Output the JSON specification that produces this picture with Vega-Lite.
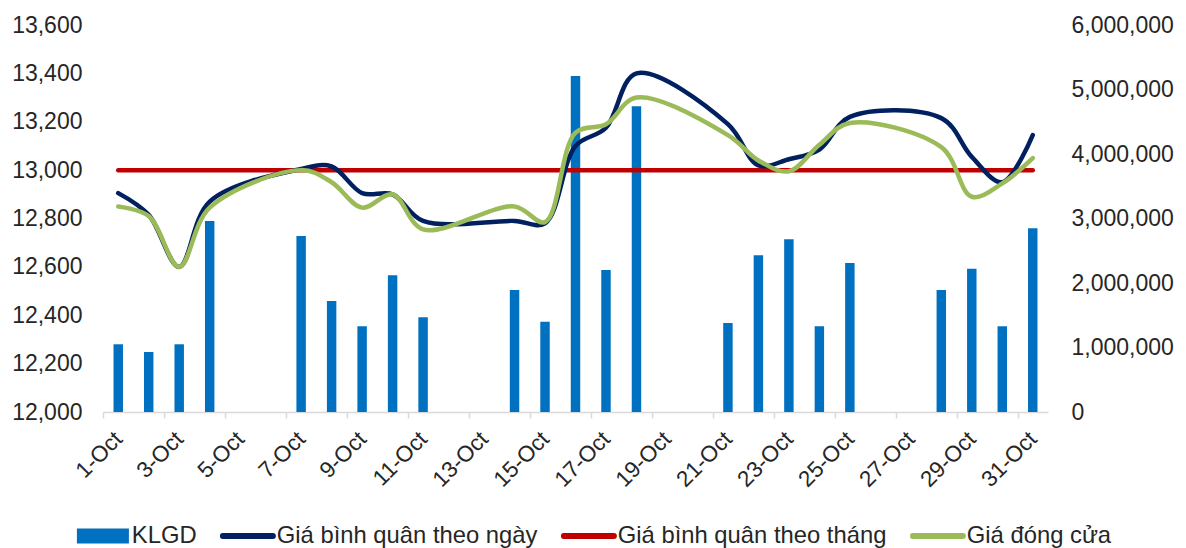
{
  "$schema": "https://vega.github.io/schema/vega-lite/v6.json",
  "width": 945,
  "height": 387,
  "autosize": {"type": "none"},
  "padding": {"left": 103, "top": 25, "right": 138, "bottom": 136},
  "background": "white",
  "config": {
    "view": {"stroke": null},
    "font": "Liberation Sans",
    "axis": {"labelFont": "Liberation Sans", "labelColor": "#262626", "grid": false, "title": null}
  },
  "datasets": {
    "vol": [
      {"d": "1-Oct", "s": "KLGD", "v": 1050000},
      {"d": "2-Oct", "s": "KLGD", "v": 930000},
      {"d": "3-Oct", "s": "KLGD", "v": 1050000},
      {"d": "4-Oct", "s": "KLGD", "v": 2960000},
      {"d": "7-Oct", "s": "KLGD", "v": 2730000},
      {"d": "8-Oct", "s": "KLGD", "v": 1720000},
      {"d": "9-Oct", "s": "KLGD", "v": 1330000},
      {"d": "10-Oct", "s": "KLGD", "v": 2120000},
      {"d": "11-Oct", "s": "KLGD", "v": 1470000},
      {"d": "14-Oct", "s": "KLGD", "v": 1890000},
      {"d": "15-Oct", "s": "KLGD", "v": 1400000},
      {"d": "16-Oct", "s": "KLGD", "v": 5210000},
      {"d": "17-Oct", "s": "KLGD", "v": 2200000},
      {"d": "18-Oct", "s": "KLGD", "v": 4740000},
      {"d": "21-Oct", "s": "KLGD", "v": 1380000},
      {"d": "22-Oct", "s": "KLGD", "v": 2430000},
      {"d": "23-Oct", "s": "KLGD", "v": 2680000},
      {"d": "24-Oct", "s": "KLGD", "v": 1330000},
      {"d": "25-Oct", "s": "KLGD", "v": 2310000},
      {"d": "28-Oct", "s": "KLGD", "v": 1890000},
      {"d": "29-Oct", "s": "KLGD", "v": 2220000},
      {"d": "30-Oct", "s": "KLGD", "v": 1330000},
      {"d": "31-Oct", "s": "KLGD", "v": 2850000}
    ],
    "price": [
      {"d": "1-Oct", "s": "Giá bình quân theo tháng", "v": 13000},
      {"d": "2-Oct", "s": "Giá bình quân theo tháng", "v": 13000},
      {"d": "3-Oct", "s": "Giá bình quân theo tháng", "v": 13000},
      {"d": "4-Oct", "s": "Giá bình quân theo tháng", "v": 13000},
      {"d": "7-Oct", "s": "Giá bình quân theo tháng", "v": 13000},
      {"d": "8-Oct", "s": "Giá bình quân theo tháng", "v": 13000},
      {"d": "9-Oct", "s": "Giá bình quân theo tháng", "v": 13000},
      {"d": "10-Oct", "s": "Giá bình quân theo tháng", "v": 13000},
      {"d": "11-Oct", "s": "Giá bình quân theo tháng", "v": 13000},
      {"d": "14-Oct", "s": "Giá bình quân theo tháng", "v": 13000},
      {"d": "15-Oct", "s": "Giá bình quân theo tháng", "v": 13000},
      {"d": "16-Oct", "s": "Giá bình quân theo tháng", "v": 13000},
      {"d": "17-Oct", "s": "Giá bình quân theo tháng", "v": 13000},
      {"d": "18-Oct", "s": "Giá bình quân theo tháng", "v": 13000},
      {"d": "21-Oct", "s": "Giá bình quân theo tháng", "v": 13000},
      {"d": "22-Oct", "s": "Giá bình quân theo tháng", "v": 13000},
      {"d": "23-Oct", "s": "Giá bình quân theo tháng", "v": 13000},
      {"d": "24-Oct", "s": "Giá bình quân theo tháng", "v": 13000},
      {"d": "25-Oct", "s": "Giá bình quân theo tháng", "v": 13000},
      {"d": "28-Oct", "s": "Giá bình quân theo tháng", "v": 13000},
      {"d": "29-Oct", "s": "Giá bình quân theo tháng", "v": 13000},
      {"d": "30-Oct", "s": "Giá bình quân theo tháng", "v": 13000},
      {"d": "31-Oct", "s": "Giá bình quân theo tháng", "v": 13000},
      {"d": "1-Oct", "s": "Giá bình quân theo ngày", "v": 12905},
      {"d": "2-Oct", "s": "Giá bình quân theo ngày", "v": 12815},
      {"d": "3-Oct", "s": "Giá bình quân theo ngày", "v": 12600},
      {"d": "4-Oct", "s": "Giá bình quân theo ngày", "v": 12870},
      {"d": "7-Oct", "s": "Giá bình quân theo ngày", "v": 13005},
      {"d": "8-Oct", "s": "Giá bình quân theo ngày", "v": 13015},
      {"d": "9-Oct", "s": "Giá bình quân theo ngày", "v": 12905},
      {"d": "10-Oct", "s": "Giá bình quân theo ngày", "v": 12900},
      {"d": "11-Oct", "s": "Giá bình quân theo ngày", "v": 12790},
      {"d": "14-Oct", "s": "Giá bình quân theo ngày", "v": 12790},
      {"d": "15-Oct", "s": "Giá bình quân theo ngày", "v": 12780},
      {"d": "16-Oct", "s": "Giá bình quân theo ngày", "v": 13100},
      {"d": "17-Oct", "s": "Giá bình quân theo ngày", "v": 13175},
      {"d": "18-Oct", "s": "Giá bình quân theo ngày", "v": 13400},
      {"d": "21-Oct", "s": "Giá bình quân theo ngày", "v": 13190},
      {"d": "22-Oct", "s": "Giá bình quân theo ngày", "v": 13020},
      {"d": "23-Oct", "s": "Giá bình quân theo ngày", "v": 13045},
      {"d": "24-Oct", "s": "Giá bình quân theo ngày", "v": 13085},
      {"d": "25-Oct", "s": "Giá bình quân theo ngày", "v": 13220},
      {"d": "28-Oct", "s": "Giá bình quân theo ngày", "v": 13215},
      {"d": "29-Oct", "s": "Giá bình quân theo ngày", "v": 13055},
      {"d": "30-Oct", "s": "Giá bình quân theo ngày", "v": 12950},
      {"d": "31-Oct", "s": "Giá bình quân theo ngày", "v": 13145},
      {"d": "1-Oct", "s": "Giá đóng cửa", "v": 12850},
      {"d": "2-Oct", "s": "Giá đóng cửa", "v": 12810},
      {"d": "3-Oct", "s": "Giá đóng cửa", "v": 12600},
      {"d": "4-Oct", "s": "Giá đóng cửa", "v": 12845},
      {"d": "7-Oct", "s": "Giá đóng cửa", "v": 13000},
      {"d": "8-Oct", "s": "Giá đóng cửa", "v": 12950},
      {"d": "9-Oct", "s": "Giá đóng cửa", "v": 12845},
      {"d": "10-Oct", "s": "Giá đóng cửa", "v": 12900},
      {"d": "11-Oct", "s": "Giá đóng cửa", "v": 12755},
      {"d": "14-Oct", "s": "Giá đóng cửa", "v": 12850},
      {"d": "15-Oct", "s": "Giá đóng cửa", "v": 12785},
      {"d": "16-Oct", "s": "Giá đóng cửa", "v": 13155},
      {"d": "17-Oct", "s": "Giá đóng cửa", "v": 13190},
      {"d": "18-Oct", "s": "Giá đóng cửa", "v": 13300},
      {"d": "21-Oct", "s": "Giá đóng cửa", "v": 13145},
      {"d": "22-Oct", "s": "Giá đóng cửa", "v": 13040},
      {"d": "23-Oct", "s": "Giá đóng cửa", "v": 12995},
      {"d": "24-Oct", "s": "Giá đóng cửa", "v": 13105},
      {"d": "25-Oct", "s": "Giá đóng cửa", "v": 13195},
      {"d": "28-Oct", "s": "Giá đóng cửa", "v": 13095},
      {"d": "29-Oct", "s": "Giá đóng cửa", "v": 12890},
      {"d": "30-Oct", "s": "Giá đóng cửa", "v": 12945},
      {"d": "31-Oct", "s": "Giá đóng cửa", "v": 13050}
    ]
  },
  "encoding": {
    "x": {
      "field": "d",
      "type": "ordinal",
      "sort": ["1-Oct","2-Oct","3-Oct","4-Oct","5-Oct","6-Oct","7-Oct","8-Oct","9-Oct","10-Oct","11-Oct","12-Oct","13-Oct","14-Oct","15-Oct","16-Oct","17-Oct","18-Oct","19-Oct","20-Oct","21-Oct","22-Oct","23-Oct","24-Oct","25-Oct","26-Oct","27-Oct","28-Oct","29-Oct","30-Oct","31-Oct"],
      "scale": {
        "type": "band",
        "domain": ["1-Oct","2-Oct","3-Oct","4-Oct","5-Oct","6-Oct","7-Oct","8-Oct","9-Oct","10-Oct","11-Oct","12-Oct","13-Oct","14-Oct","15-Oct","16-Oct","17-Oct","18-Oct","19-Oct","20-Oct","21-Oct","22-Oct","23-Oct","24-Oct","25-Oct","26-Oct","27-Oct","28-Oct","29-Oct","30-Oct","31-Oct"],
        "paddingInner": 0.69,
        "paddingOuter": 0.345
      },
      "axis": {
        "values": ["1-Oct","3-Oct","5-Oct","7-Oct","9-Oct","11-Oct","13-Oct","15-Oct","17-Oct","19-Oct","21-Oct","23-Oct","25-Oct","27-Oct","29-Oct","31-Oct"],
        "tickOffset": -15.24,
        "labelOffset": 15.24,
        "labelAngle": -45,
        "labelAlign": "right",
        "labelBaseline": "middle",
        "labelFontSize": 22.5,
        "labelPadding": 17,
        "tickSize": 6,
        "tickColor": "#d9d9d9",
        "tickWidth": 1.5,
        "domainColor": "#d9d9d9",
        "domainWidth": 1.5,
        "labelOverlap": false
      }
    },
    "color": {
      "field": "s",
      "type": "nominal",
      "scale": {
        "domain": ["KLGD", "Giá bình quân theo ngày", "Giá bình quân theo tháng", "Giá đóng cửa"],
        "range": ["#0070C0", "#002060", "#C00000", "#9BBB59"]
      },
      "legend": {
        "title": null,
        "orient": "none",
        "legendX": -12,
        "legendY": 499,
        "direction": "horizontal",
        "symbolSize": 2500,
        "labelFontSize": 23.8,
        "labelFont": "Liberation Sans",
        "labelColor": "#262626",
        "labelOffset": 17,
        "columnPadding": 13,
        "labelLimit": 400,
        "encode": {
          "symbols": {
            "update": {
              "shape": {"signal": "datum.value === 'KLGD' ? 'M-1.04,-0.3H1.04V0.3H-1.04Z' : 'stroke'"},
              "fill": {"scale": "color", "field": "value"},
              "stroke": {"scale": "color", "field": "value"},
              "strokeWidth": {"signal": "datum.value === 'KLGD' ? 0 : 6"},
              "strokeCap": {"value": "round"},
              "opacity": {"value": 1},
              "fillOpacity": {"value": 1},
              "strokeOpacity": {"value": 1}
            }
          }
        }
      }
    }
  },
  "layer": [
    {
      "data": {"name": "vol"},
      "mark": {"type": "bar"},
      "encoding": {
        "y": {
          "field": "v",
          "type": "quantitative",
          "scale": {"domain": [0, 6000000], "nice": false, "zero": true},
          "axis": {
            "orient": "right",
            "values": [0, 1000000, 2000000, 3000000, 4000000, 5000000, 6000000],
            "format": ",.0f",
            "domain": false,
            "ticks": false,
            "labelFontSize": 23,
            "labelPadding": 23,
            "labelBaseline": "middle"
          }
        }
      }
    },
    {
      "data": {"name": "price"},
      "encoding": {
        "y": {
          "field": "v",
          "type": "quantitative",
          "scale": {"domain": [12000, 13600], "nice": false, "zero": false},
          "axis": {
            "orient": "left",
            "values": [12000, 12200, 12400, 12600, 12800, 13000, 13200, 13400, 13600],
            "format": ",.0f",
            "domain": false,
            "ticks": false,
            "labelFontSize": 23,
            "labelPadding": 21,
            "labelBaseline": "middle"
          }
        }
      },
      "layer": [
        {
          "transform": [{"filter": "datum.s === 'Giá bình quân theo tháng'"}],
          "mark": {"type": "line", "strokeWidth": 4.5, "strokeCap": "round", "interpolate": "catmull-rom"}
        },
        {
          "transform": [{"filter": "datum.s === 'Giá bình quân theo ngày'"}],
          "mark": {"type": "line", "strokeWidth": 4.5, "strokeCap": "round", "interpolate": "catmull-rom"}
        },
        {
          "transform": [{"filter": "datum.s === 'Giá đóng cửa'"}],
          "mark": {"type": "line", "strokeWidth": 4.5, "strokeCap": "round", "interpolate": "catmull-rom"}
        }
      ]
    }
  ],
  "resolve": {"scale": {"y": "independent"}, "axis": {"y": "independent"}}
}
